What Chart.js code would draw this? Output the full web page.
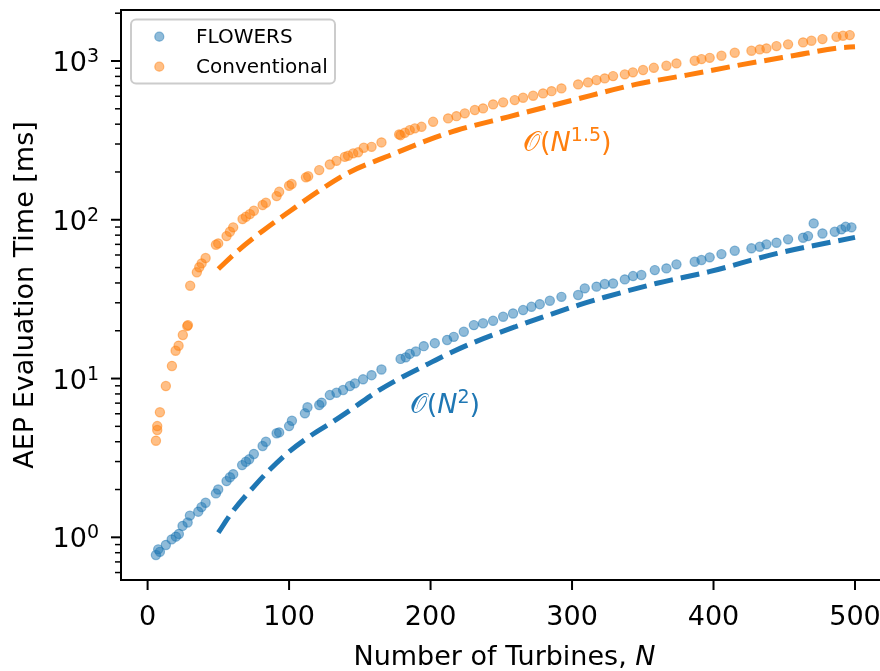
<!DOCTYPE html>
<html>
<head>
<meta charset="utf-8">
<title>AEP evaluation time</title>
<script src="https://cdn.jsdelivr.net/npm/chart.js@4.4.1/dist/chart.umd.min.js"></script>
<style>
  html, body { margin: 0; padding: 0; background: #fff; overflow: hidden; }
  #wrap { width: 890px; height: 671px; }
</style>
</head>
<body>
<div id="wrap"><canvas id="chart" width="890" height="671"></canvas></div>
<script>
// data (N = number of turbines, times in ms)
const flowersN = [5.9, 7.5, 8.7, 12.9, 17, 20, 22.1, 24.7, 28.3, 29.9, 35.8, 38.1, 41, 48.3, 49.9, 55.8, 58.2, 60.5,
  66.8, 69.5, 71.8, 75.1, 81.3, 83.6, 91.2, 93, 100, 102, 111.2, 113, 121.3, 123, 128.8, 133.5, 138.2, 143, 146.5,
  152.3, 158.3, 165.3, 178.8, 182.5, 185.3, 189.6, 195.2, 203, 211.7, 216.4, 223.5, 230.6, 237.1, 244.2, 251.3,
  258.3, 265.4, 271.3, 277.2, 284.3, 292.5, 304.3, 309, 317.3, 323.1, 329, 337.3, 343.1, 349, 358.5, 366.7, 373.8,
  386.7, 391.5, 397.3, 405.6, 415, 426.8, 432.7, 437.4, 444.5, 452.7, 463.3, 466.8, 470.8, 477, 485.7, 490.4, 493.4, 497.5];
const flowersMs = [0.774, 0.84, 0.81, 0.895, 0.97, 1.01, 1.05, 1.18, 1.24, 1.37, 1.45, 1.55, 1.65, 1.89, 2.0, 2.26, 2.39, 2.5,
  2.85, 2.99, 3.1, 3.35, 3.76, 4.0, 4.52, 4.58, 5.02, 5.42, 6.04, 6.59, 6.81, 7.05, 7.87, 8.14, 8.47, 8.97, 9.33,
  9.89, 10.5, 11.4, 13.3, 13.6, 14.3, 14.8, 16.0, 16.7, 17.5, 18.3, 19.7, 21.7, 22.3, 23.1, 24.5,
  25.7, 27, 28.3, 29.4, 30.9, 32.7, 33.6, 37, 37.9, 39.4, 39.7, 42.1, 44.2, 44.9, 48.2, 49.4, 52.4,
  54.4, 55.8, 58, 60.8, 63.8, 66.1, 67.6, 70, 71.7, 75.3, 77.1, 78.9, 94.9, 82, 84, 87, 90.3, 89.6];

const convN = [5.9, 6.8, 6.8, 8.7, 12.9, 17.2, 19.8, 21.9, 24.9, 28, 28.5, 30.1, 34.8, 36.5, 38.2, 41, 48.3, 49.9, 55.8,
  58.2, 60.5, 67.1, 69.5, 72.3, 75.1, 81.3, 83.6, 91.2, 93, 100, 101.8, 111.9, 113.5, 121.3, 128.8, 133.5, 139.4,
  141.7, 145.3, 148.8, 152.8, 158.3, 165.3, 177.8, 178.8, 181.8, 185.3, 188.9, 193.6, 201.8, 212.4, 218.3, 224.2,
  231.3, 237.1, 244.2, 251.3, 259.5, 265.4, 272.5, 279.5, 285.5, 292.5, 304.3, 311.3, 317.3, 323.1, 329, 337.3,
  343, 350.2, 357.8, 366.7, 373.8, 386.7, 391.5, 397.3, 405.6, 415, 426.8, 432.7, 437.4, 444.5, 452.7, 463.3,
  469.2, 477, 486.9, 491.5, 496.3];
const convMs = [4.06, 4.74, 5.02, 6.13, 8.97, 12.0, 14.96, 16.1, 18.8, 21.4, 21.7, 38.4, 46.7, 50.2, 53.1, 57.4, 69.6, 71, 78.9,
  84, 89.6, 101, 104.4, 108.6, 114, 123.8, 128, 141, 150, 163.7, 168, 185, 188, 205.5, 223, 235, 249,
  253, 262, 266, 284, 288, 307, 345, 341, 353, 367, 376.5, 385, 414, 435, 449.5, 468,
  491, 503, 533, 549, 567, 587, 604, 625, 646, 672, 712, 733, 758, 777, 803, 824,
  848, 877, 906, 933, 966, 1003, 1028, 1047, 1079, 1127, 1160, 1183, 1200, 1241, 1273, 1310,
  1341, 1374, 1420, 1442, 1456];

// dashed reference curves
const quadN = [50, 60, 75, 86, 100, 115, 131, 145, 162, 178, 197, 211, 230, 260, 305, 323, 360, 397, 445, 500];
const quadMs = [1.07, 1.45, 2.08, 2.65, 3.46, 4.35, 5.35, 6.49, 8.26, 10.0, 12.2, 14.1, 16.8, 21.2, 29.1, 32.5, 39.8, 47.1, 61.4, 77.5];
const powN = [50, 64, 82, 101, 122, 142, 172, 200, 218, 255, 300, 345, 381, 419, 456, 489, 500];
const powMs = [49, 64, 86, 114, 154, 198, 256, 322, 365, 445, 565, 712, 815, 945, 1079, 1211, 1228];

const xTicks = [0, 100, 200, 300, 400, 500];
const yTicks = [1, 10, 100, 1000];
const yTickExp = ['0', '1', '2', '3'];

const BLUE = '#1f77b4', ORANGE = '#ff7f0e';
const FONT = 'DejaVu Sans, Noto Sans, sans-serif';
const BIG = '27px ' + FONT, SUP = '19px ' + FONT;

function pts(xs, ys) { return xs.map((v, i) => ({ x: v, y: ys[i] })); }

// draws a list of text pieces left to right
function drawPieces(ctx, pieces, x, y) {
  pieces.forEach(p => {
    ctx.font = p.font;
    ctx.fillText(p.t, x, y - (p.rise || 0));
    x += ctx.measureText(p.t).width;
  });
  return x;
}
function piecesWidth(ctx, pieces) {
  return pieces.reduce((w, p) => { ctx.font = p.font; return w + ctx.measureText(p.t).width; }, 0);
}

const decor = {
  id: 'decor',
  afterDraw(chart) {
    const { ctx, chartArea: a, scales: { x, y } } = chart;
    ctx.save();
    ctx.strokeStyle = '#000';
    ctx.fillStyle = '#000';
    ctx.lineCap = 'butt';

    // spines
    ctx.lineWidth = 2;
    ctx.strokeRect(a.left, a.top, a.right - a.left, a.bottom - a.top);

    // x ticks + labels
    ctx.font = BIG;
    ctx.textAlign = 'center';
    ctx.textBaseline = 'alphabetic';
    xTicks.forEach(v => {
      const px = x.getPixelForValue(v);
      ctx.beginPath(); ctx.moveTo(px, a.bottom); ctx.lineTo(px, a.bottom + 10); ctx.stroke();
      ctx.fillText(String(v), px, a.bottom + 45);
    });

    // y minor ticks
    ctx.lineWidth = 1.5;
    for (let d = -1; d <= 3; d++) {
      for (let m = 2; m <= 9; m++) {
        const v = m * Math.pow(10, d);
        if (v < y.min || v > y.max) continue;
        const py = y.getPixelForValue(v);
        ctx.beginPath(); ctx.moveTo(a.left, py); ctx.lineTo(a.left - 6, py); ctx.stroke();
      }
    }
    // y major ticks + labels 10^k
    ctx.lineWidth = 2;
    ctx.textAlign = 'left';
    yTicks.forEach((v, i) => {
      const py = y.getPixelForValue(v);
      ctx.beginPath(); ctx.moveTo(a.left, py); ctx.lineTo(a.left - 10, py); ctx.stroke();
      const pieces = [{ t: '10', font: BIG }, { t: yTickExp[i], font: SUP, rise: 9 }];
      const w = piecesWidth(ctx, pieces);
      drawPieces(ctx, pieces, 99 - w, py + 10);
    });

    // axis titles
    const xt = [{ t: 'Number of Turbines, ', font: BIG }, { t: 'N', font: 'italic ' + BIG }];
    const xw = piecesWidth(ctx, xt);
    drawPieces(ctx, xt, (a.left + a.right) / 2 - xw / 2 + 2, 665);

    ctx.save();
    ctx.translate(33, (a.top + a.bottom) / 2);
    ctx.rotate(-Math.PI / 2);
    ctx.font = BIG;
    ctx.textAlign = 'center';
    ctx.fillText('AEP Evaluation Time [ms]', 0, 0);
    ctx.restore();

    // complexity annotations
    ctx.textAlign = 'left';
    const notes = [
      { n: 185.3, ms: 6.04, color: BLUE, exp: '2' },
      { n: 265.4, ms: 272, color: ORANGE, exp: '1.5' }
    ];
    notes.forEach(t => {
      ctx.fillStyle = t.color;
      drawPieces(ctx, [
        { t: '\u{1D4AA}', font: BIG },
        { t: '(', font: BIG },
        { t: 'N', font: 'italic ' + BIG },
        { t: t.exp, font: SUP, rise: 10 },
        { t: ')', font: BIG }
      ], x.getPixelForValue(t.n), y.getPixelForValue(t.ms));
    });

    // legend
    const lx = 131, ly = 19.5, lw = 204, lh = 64;
    ctx.beginPath();
    ctx.roundRect(lx, ly, lw, lh, 5);
    ctx.fillStyle = 'rgba(255,255,255,0.8)';
    ctx.fill();
    ctx.strokeStyle = '#cccccc';
    ctx.lineWidth = 2;
    ctx.stroke();
    chart.data.datasets.slice(0, 2).forEach((ds, i) => {
      const cy = 36.7 + i * 30;
      ctx.beginPath();
      ctx.arc(159.3, cy, 4.5, 0, Math.PI * 2);
      ctx.fillStyle = ds.backgroundColor;
      ctx.strokeStyle = ds.borderColor;
      ctx.lineWidth = 1.2;
      ctx.fill(); ctx.stroke();
      ctx.fillStyle = '#000';
      ctx.font = '20px ' + FONT;
      ctx.textBaseline = 'middle';
      ctx.fillText(ds.label, 196, cy + 1);
      ctx.textBaseline = 'alphabetic';
    });
    ctx.restore();
  }
};

new Chart(document.getElementById('chart'), {
  type: 'scatter',
  data: {
    datasets: [
      { label: 'FLOWERS', data: pts(flowersN, flowersMs), pointRadius: 4.6, borderWidth: 1.2,
        backgroundColor: 'rgba(31,119,180,0.5)', borderColor: 'rgba(31,119,180,0.5)', order: 4 },
      { label: 'Conventional', data: pts(convN, convMs), pointRadius: 4.6, borderWidth: 1.2,
        backgroundColor: 'rgba(255,127,14,0.5)', borderColor: 'rgba(255,127,14,0.5)', order: 3 },
      { type: 'line', label: 'O(N^2)', data: pts(quadN, quadMs), borderColor: BLUE, borderWidth: 5,
        borderDash: [19, 8], pointRadius: 0, fill: false, cubicInterpolationMode: 'monotone', order: 2 },
      { type: 'line', label: 'O(N^1.5)', data: pts(powN, powMs), borderColor: ORANGE, borderWidth: 5,
        borderDash: [19, 8], pointRadius: 0, fill: false, cubicInterpolationMode: 'monotone', order: 1 }
    ]
  },
  options: {
    responsive: false,
    animation: false,
    events: [],
    devicePixelRatio: 1,
    layout: { padding: { top: 10, right: 6, left: 0, bottom: 0 } },
    plugins: { legend: { display: false }, tooltip: { enabled: false } },
    scales: {
      x: {
        type: 'linear', min: -18.8, max: 520.5,
        grid: { display: false }, border: { display: false },
        ticks: { display: false },
        afterFit: s => { s.height = 91; }
      },
      y: {
        type: 'logarithmic', min: 0.5385, max: 2095,
        grid: { display: false }, border: { display: false },
        ticks: { display: false },
        afterFit: s => { s.width = 121; }
      }
    }
  },
  plugins: [decor]
});
</script>
</body>
</html>
